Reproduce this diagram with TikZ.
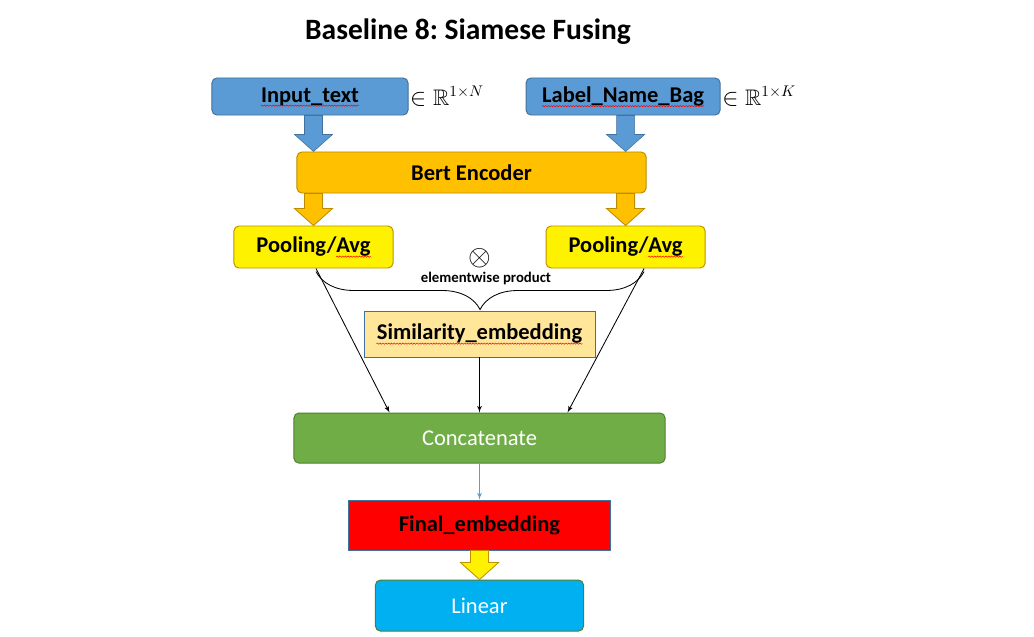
\documentclass[tikz,border=0pt]{standalone}
\usepackage{amssymb}
\usepackage{xcolor}
\usepackage{fontspec}
\setmainfont{Carlito}
\usepackage{tikz}
\usetikzlibrary{arrows,calc,positioning,decorations.pathreplacing,decorations.pathmorphing}
\definecolor{blueFill}{HTML}{5B9BD5}
\definecolor{blueLine}{HTML}{41719C}
\definecolor{orangeFill}{HTML}{FFC000}
\definecolor{orangeLine}{HTML}{BC8C00}
\definecolor{yellowLine}{HTML}{BF9000}
\definecolor{simFill}{HTML}{FFE699}
\definecolor{greenFill}{HTML}{70AD47}
\definecolor{greenLine}{HTML}{507E32}
\definecolor{cyanFill}{HTML}{00B0F0}
\newcommand{\spellwave}[1]{\tikz[baseline=(w.base), x=1pt, y=1pt]{%
	\node [inner sep=0pt, draw=none, fill=none, minimum width=0pt, minimum height=0pt] (w) {#1};
	\draw [overlay, red, line width=0.35pt, rounded corners=0pt, decorate, decoration={snake, amplitude=0.45pt, segment length=2pt}]
	($(w.base west)+(0,-2.6)$) -- ($(w.base east)+(0,-2.6)$);}}
\newcommand{\blockarrow}[3]{%
	\draw[#1] ($(#2)+(-9,0)$) -- ($(#3)+(-9,-17)$) -- ($(#3)+(-19,-17)$) -- (#3)
	-- ($(#3)+(19,-17)$) -- ($(#3)+(9,-17)$) -- ($(#2)+(9,0)$) -- cycle;}
\tikzset{
	block/.style = {draw, rectangle, rounded corners=3.5pt, line width=0.7pt, inner sep=0pt,
		font=\fontsize{16}{19}\selectfont\bfseries},
	flatblock/.style = {block, rounded corners=0pt},
	whitetext/.style = {text=white, font=\fontsize{16}{19}\selectfont},
	dims/.style = {inner sep=1pt, anchor=west, font=\fontsize{16}{19}\selectfont},
	bluearrow/.style = {fill=blueFill, draw=blueLine, line width=0.4pt},
	orangearrow/.style = {fill=orangeFill, draw=orangeLine, line width=0.6pt},
	yellowarrow/.style = {fill=yellow, draw=yellowLine, line width=0.6pt},
	link/.style = {->, line width=0.6pt}
}

\begin{document}
\begin{tikzpicture}[x=0.025cm, y=-0.025cm, auto, >=latex']
		\useasboundingbox (0,0) rectangle (1034,637);
		\node [font=\fontsize{21}{25}\selectfont\bfseries] (title) at (468,32) {\frenchspacing Baseline 8: Siamese Fusing};

		\node [block, fill=blueFill, draw=blueLine, minimum width=4.9cm, minimum height=0.925cm] (in) at (310,96.5) {\spellwave{Input\_text}};
		\node [block, fill=blueFill, draw=blueLine, minimum width=4.85cm, minimum height=0.925cm, right of=in, node distance=7.825cm] (bag) {\spellwave{Label\_Name\_Bag}};
		\node [dims] (inN) at (in.east) {$\in\mathbb{R}^{1\times N}$};
		\node [dims] (bagK) at (bag.east) {$\in\mathbb{R}^{1\times K}$};

		\node [block, fill=orangeFill, draw=orangeLine, minimum width=8.725cm, minimum height=1.025cm] (bert) at (471.5,172.5) {Bert Encoder};

		\node [block, fill=yellow, draw=yellowLine, minimum width=3.975cm, minimum height=1.05cm] (poolL) at (313.5,247) {Pooling/\spellwave{Avg}};
		\node [block, fill=yellow, draw=yellowLine, minimum width=3.975cm, minimum height=1.05cm, right of=poolL, node distance=7.8cm] (poolR) {Pooling/\spellwave{Avg}};

		\node [inner sep=0pt, font=\fontsize{20}{24}\selectfont] (prod) at (480,258) {$\otimes$};
		\node [inner sep=0pt, font=\fontsize{10.5}{12}\selectfont\bfseries] (prodlabel) at (486,278) {elementwise product};

		\node [flatblock, fill=simFill, draw=blueLine, line width=0.5pt, minimum width=5.775cm, minimum height=1.15cm] (sim) at (479.5,334) {\spellwave{Similarity\_embedding}};
		\node [block, fill=greenFill, draw=greenLine, whitetext, minimum width=9.275cm, minimum height=1.25cm, below of=sim, node distance=2.6cm] (concat) {Concatenate};
		\node [flatblock, fill=red, draw=blueLine, minimum width=6.525cm, minimum height=1.25cm, below of=concat, node distance=2.175cm] (final) {\spellwave{Final\_embedding}};
		\node [block, fill=cyanFill, draw=greenLine, whitetext, minimum width=5.2cm, minimum height=1.275cm, below of=final, node distance=2.0125cm] (linear) {Linear};

		\blockarrow{bluearrow}{in.south -| poolL.north}{bert.north -| poolL.north}
		\blockarrow{bluearrow}{bag.south -| poolR.north}{bert.north -| poolR.north}
		\blockarrow{orangearrow}{bert.south -| poolL.north}{poolL.north}
		\blockarrow{orangearrow}{bert.south -| poolR.north}{poolR.north}
		\blockarrow{yellowarrow}{final.south}{linear.north}

		\draw [line width=0.6pt, decorate, decoration={brace, mirror, amplitude=0.95cm}] ($(poolL.south)+(2.5,3)$) -- ($(poolR.south)+(18.5,3)$);

		\draw [link] ($(poolL.south)+(2.5,0)$) -- ($(concat.north)+(-90,0)$);
		\draw [link] (sim) -- (concat);
		\draw [link] ($(poolR.south)+(18.5,0)$) -- ($(concat.north)+(88,0)$);
		\draw [->, blueFill, line width=0.6pt] (concat) -- (final);
	\end{tikzpicture}
\end{document}
